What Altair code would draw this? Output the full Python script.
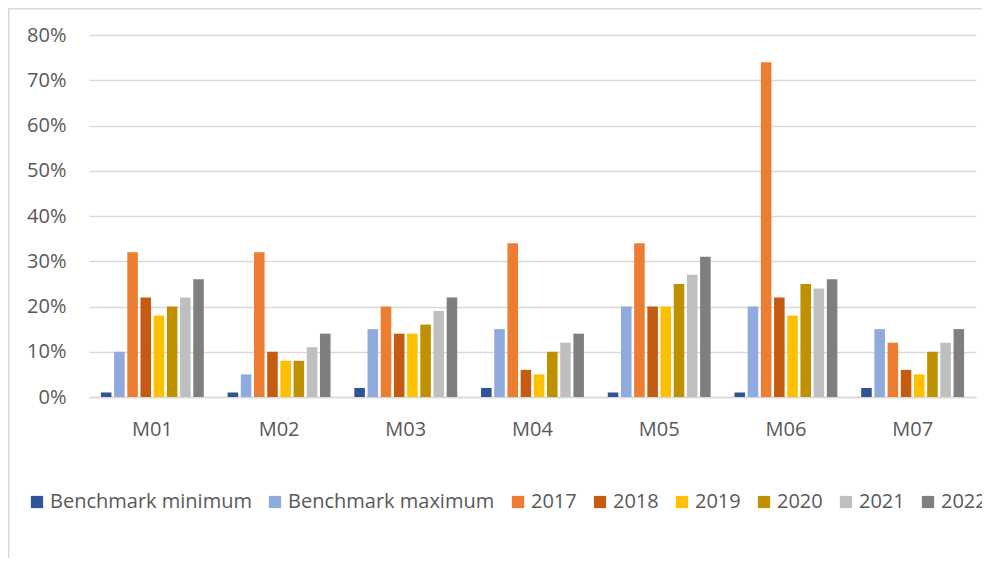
import altair as alt
import pandas as pd

categories = ["M01", "M02", "M03", "M04", "M05", "M06", "M07"]
series = ["Benchmark minimum", "Benchmark maximum", "2017", "2018", "2019", "2020", "2021", "2022"]
bench_min = [0.01, 0.01, 0.02, 0.02, 0.01, 0.01, 0.02]
bench_max = [0.10, 0.05, 0.15, 0.15, 0.20, 0.20, 0.15]
v2017 = [0.32, 0.32, 0.20, 0.34, 0.34, 0.74, 0.12]
v2018 = [0.22, 0.10, 0.14, 0.06, 0.20, 0.22, 0.06]
v2019 = [0.18, 0.08, 0.14, 0.05, 0.20, 0.18, 0.05]
v2020 = [0.20, 0.08, 0.16, 0.10, 0.25, 0.25, 0.10]
v2021 = [0.22, 0.11, 0.19, 0.12, 0.27, 0.24, 0.12]
v2022 = [0.26, 0.14, 0.22, 0.14, 0.31, 0.26, 0.15]
colors = ["#2F5597", "#8FAADC", "#ED7D31", "#C55A11", "#FFC000", "#BF9000", "#BFBFBF", "#7F7F7F"]
y_ticks = [0, 0.1, 0.2, 0.3, 0.4, 0.5, 0.6, 0.7, 0.8]

all_values = [bench_min, bench_max, v2017, v2018, v2019, v2020, v2021, v2022]
rows = []
for s, vals in zip(series, all_values):
    for c, v in zip(categories, vals):
        rows.append({"cat": c, "series": s, "value": v})
df = pd.DataFrame(rows)

W, H = 887, 362
FONT = "Open Sans"
TXT = "#595959"
GRID = "#D9D9D9"

bars = alt.Chart(df).mark_bar().encode(
    x=alt.X("cat:N", sort=categories,
            scale=alt.Scale(paddingInner=0.188, paddingOuter=0.094),
            axis=alt.Axis(title=None, labelAngle=0, ticks=False, labelPadding=22,
                          labelFont=FONT, labelFontSize=20, labelColor=TXT,
                          domainColor=GRID, domainWidth=1.5, grid=False)),
    xOffset=alt.XOffset("series:N", sort=series,
                        scale=alt.Scale(paddingInner=0.2, paddingOuter=0)),
    y=alt.Y("value:Q", scale=alt.Scale(domain=[0, 0.8], nice=False),
            axis=alt.Axis(title=None, format=".0%", values=y_ticks, ticks=False,
                          domain=False, labelPadding=23, labelFont=FONT,
                          labelFontSize=20, labelColor=TXT,
                          gridColor=GRID, gridWidth=1.3)),
    color=alt.Color("series:N", sort=series,
                    scale=alt.Scale(domain=series, range=colors),
                    legend=alt.Legend(title=None, orient="none", legendX=-62, legendY=457,
                                      direction="horizontal", columns=8,
                                      symbolType="square", symbolSize=150,
                                      symbolStrokeWidth=0, labelFont=FONT,
                                      labelFontSize=20, labelColor=TXT,
                                      labelLimit=400, labelOffset=3,
                                      columnPadding=13)),
)

frame = alt.Chart(alt.Data(values=[{}])).mark_rect(
    fill=None, stroke=GRID, strokeWidth=1.5
).encode(
    x=alt.value(-80.2), x2=alt.value(W + 200),
    y=alt.value(-26.2), y2=alt.value(H + 400),
)

chart = alt.layer(frame, bars).properties(
    width=W, height=H,
    background="white",
    autosize=alt.AutoSizeParams(type="none"),
    padding={"left": 81, "top": 27, "right": 6, "bottom": 161},
).configure_view(strokeWidth=0, stroke="transparent")

chart.save("out.html", embed_options={"renderer": "svg", "actions": False})
